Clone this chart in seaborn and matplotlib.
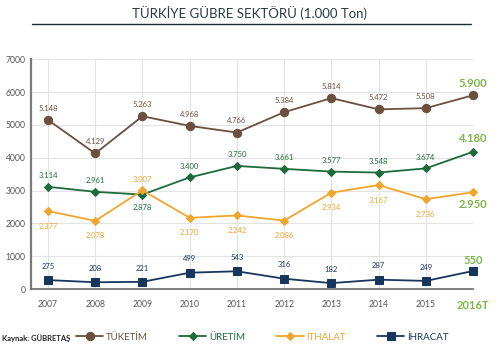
import pandas as pd
import matplotlib.pyplot as plt
import seaborn as sns

years = ['2007', '2008', '2009', '2010', '2011', '2012', '2013', '2014', '2015', '2016T']
tuketim = [5148, 4129, 5263, 4968, 4766, 5384, 5814, 5472, 5508, 5900]
uretim = [3114, 2961, 2878, 3400, 3750, 3661, 3577, 3548, 3674, 4180]
ithalat = [2377, 2078, 3007, 2170, 2242, 2086, 2934, 3167, 2736, 2950]
ihracat = [275, 208, 221, 499, 543, 316, 182, 287, 249, 550]

series = ['TÜKETİM', 'ÜRETİM', 'İTHALAT', 'İHRACAT']
colors = ['#6b5040', '#1d6b3a', '#f0a52e', '#17365c']
markers = ['o', 'D', 'D', 's']
sizes = [6, 4.5, 4.5, 5.5]

df = pd.DataFrame({
    'x': list(range(len(years))) * 4,
    'val': tuketim + uretim + ithalat + ihracat,
    'seri': [s for s in series for _ in years],
})

sns.set_style('white')
plt.rcParams['font.family'] = ['Lato', 'DejaVu Sans']

fig = plt.figure(figsize=(5, 3.5), dpi=100)
ax = fig.add_axes([0.062, 0.174, 0.884, 0.657])

for s, c, m, ms in zip(series, colors, markers, sizes):
    sub = df[df['seri'] == s]
    sns.lineplot(data=sub, x='x', y='val', color=c, marker=m, markersize=ms,
                 markeredgecolor=c, linewidth=1.3, ax=ax, label=s, clip_on=False, zorder=3)

ax.set_xlim(-0.36, 9)
ax.set_ylim(0, 7000)
ax.set_yticks(range(0, 7001, 1000))
ax.set_xticks(range(len(years)))
ax.set_xticklabels(years)
ax.grid(True, color='#e3e3e3', linewidth=0.8)
ax.set_axisbelow(True)
for sp in ['top', 'right']:
    ax.spines[sp].set_visible(False)
ax.spines['left'].set_color('#7a7a7a')
ax.spines['left'].set_linewidth(1.6)
ax.spines['bottom'].set_color('#6a6a6a')
ax.spines['bottom'].set_linewidth(1.2)
ax.tick_params(axis='both', length=0, labelsize=6.2, colors='#555555', pad=4)
ax.set_xlabel('')
ax.set_ylabel('')
for lbl in ax.get_xticklabels():
    lbl.set_y(-0.025)
ax.get_xticklabels()[-1].set_color('#7ab648')
ax.get_xticklabels()[-1].set_fontsize(8)
ax.get_xticklabels()[-1].set_fontweight('bold')

def fmt(v):
    return f'{v:,}'.replace(',', '.')

hl = '#7ab648'
# offsets of value labels (data units), negative = below the point
offsets = {
    'TÜKETİM': [360] * 9 + [360],
    'ÜRETİM': [340, 340, -380, 340, 340, 340, 340, 340, 340, 400],
    'İTHALAT': [-460, -460, 330, -460, -460, -460, -460, -460, -460, -360],
    'İHRACAT': [420] * 9 + [330],
}
vals = {'TÜKETİM': tuketim, 'ÜRETİM': uretim, 'İTHALAT': ithalat, 'İHRACAT': ihracat}
for s, c in zip(series, colors):
    for i, v in enumerate(vals[s]):
        last = i == len(years) - 1
        col = hl if last else c
        ax.text(i, v + offsets[s][i], fmt(v), ha='center', va='center',
                fontsize=8 if last else 5.5, color=col,
                fontweight='bold' if last else 'normal')

ax.legend_.remove()
handles, labels = ax.get_legend_handles_labels()
leg = fig.legend(handles, labels, loc='center', bbox_to_anchor=(0.525, 0.037), ncol=4,
                 frameon=False, fontsize=7, handlelength=2.8, columnspacing=3.2,
                 handletextpad=0.3)
for t, c in zip(leg.get_texts(), colors):
    t.set_color(c)

fig.text(0.5, 0.962, 'TÜRKİYE GÜBRE SEKTÖRÜ (1.000 Ton)', ha='center', va='center',
         fontsize=9.5, color='#2a3a40')
fig.add_artist(plt.Line2D([0.064, 0.942], [0.932, 0.932], color='#1e2c30', linewidth=1.0))
fig.text(0.005, 0.035, 'Kaynak: GÜBRETAŞ', ha='left', va='center', fontsize=5.5,
         fontweight='bold', color='#222222')

plt.savefig('out.png', dpi=100)
